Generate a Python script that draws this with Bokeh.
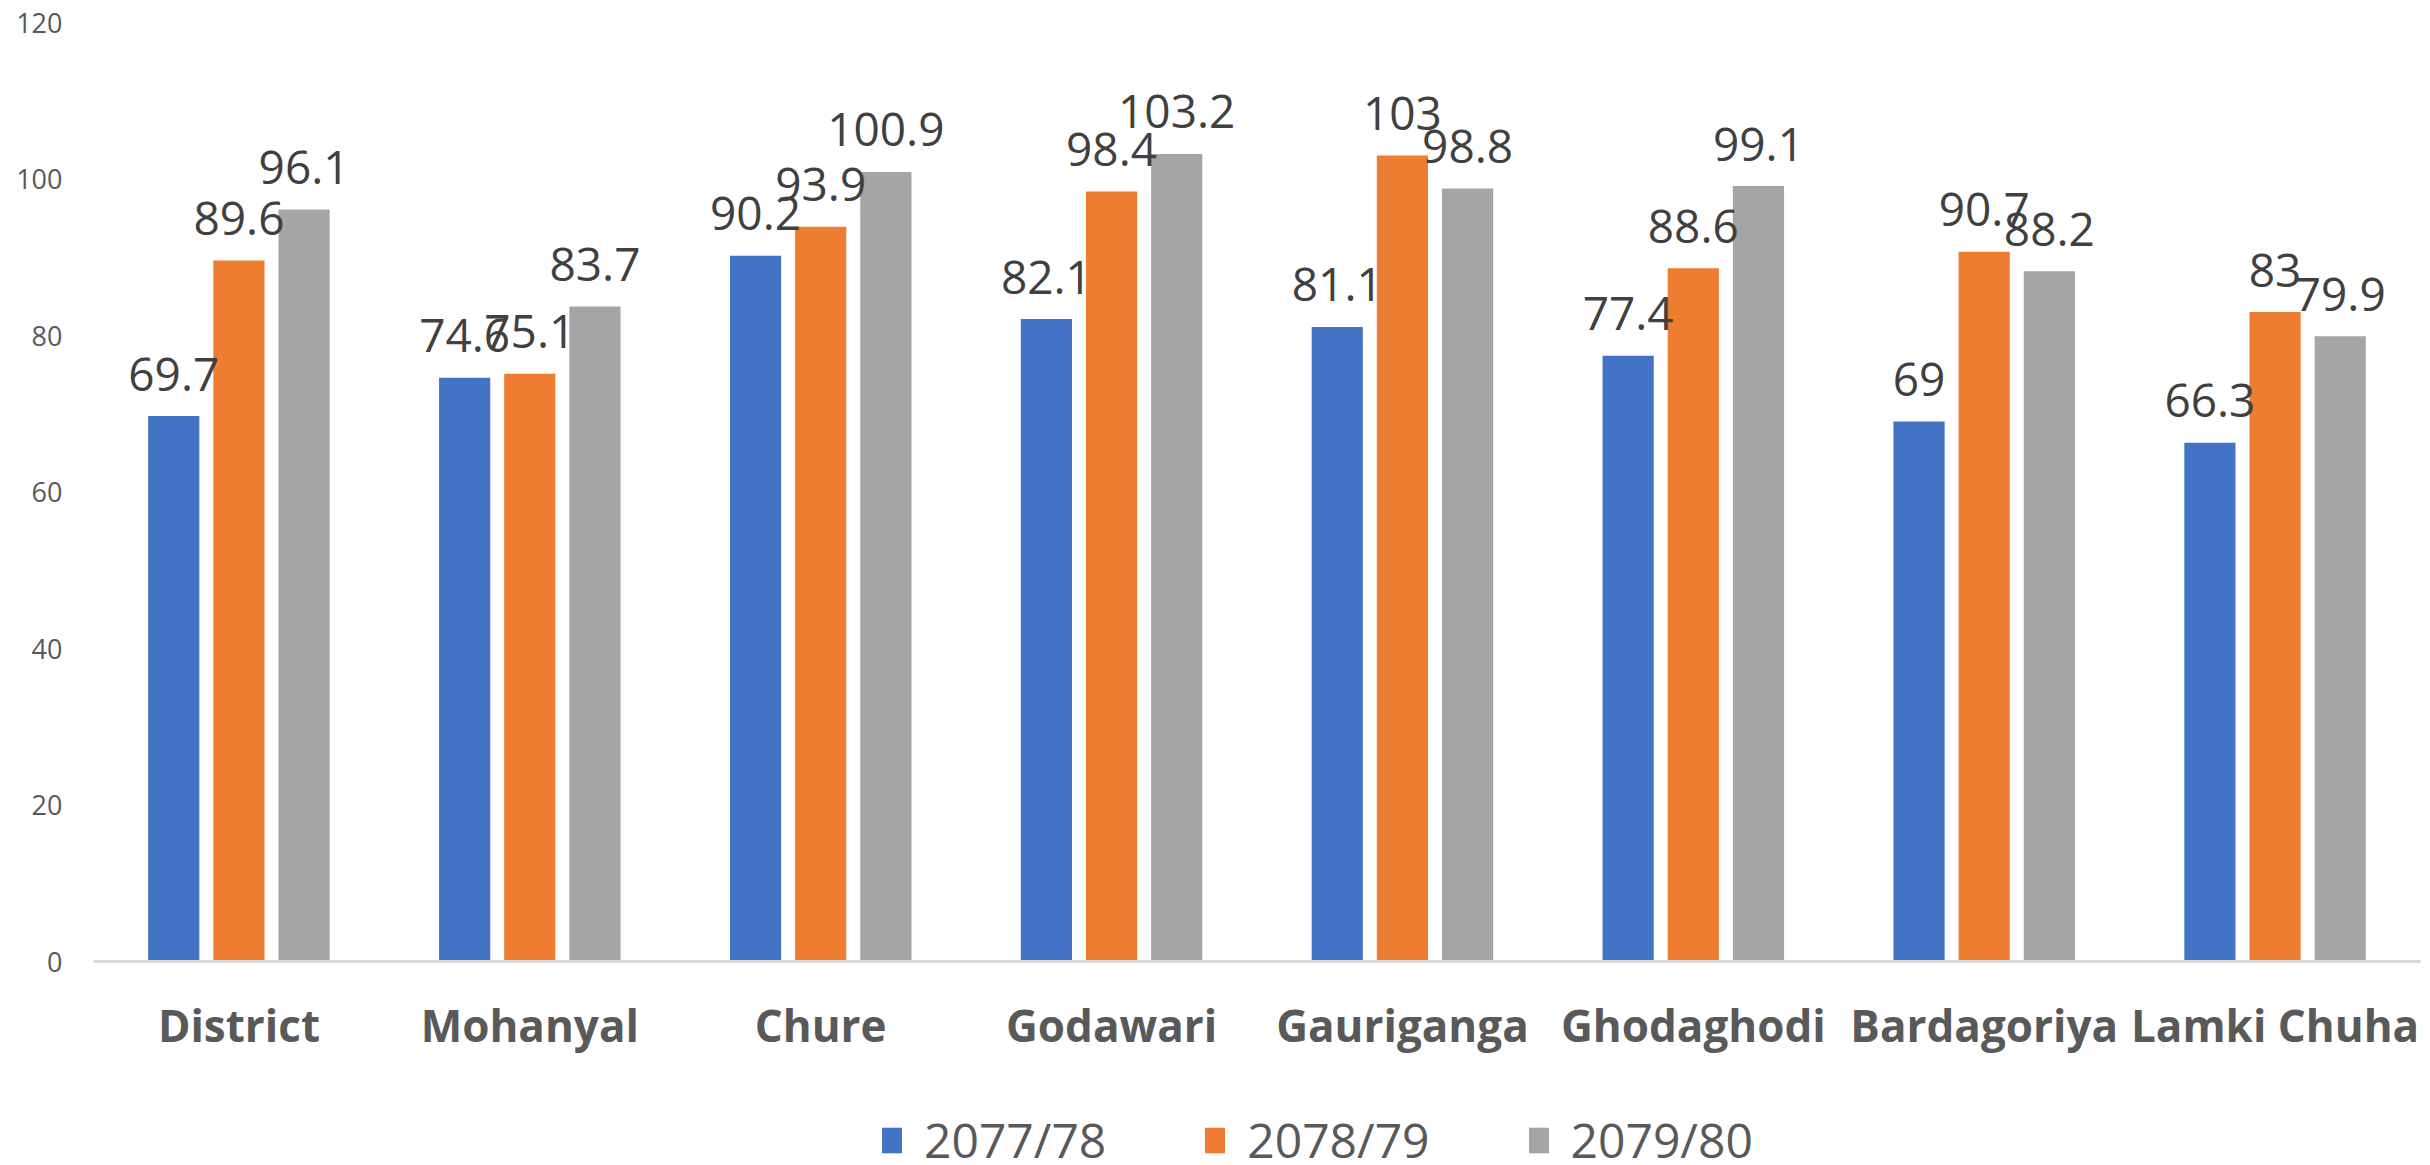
from bokeh.plotting import figure
from bokeh.models import ColumnDataSource, FactorRange, Legend, LegendItem
from bokeh.layouts import column
from bokeh.transform import dodge
from bokeh.core.properties import value
from bokeh.embed import file_html
from bokeh.resources import INLINE

categories = ["District", "Mohanyal", "Chure", "Godawari", "Gauriganga",
              "Ghodaghodi", "Bardagoriya", "Lamki Chuha"]
series_names = ["2077/78", "2078/79", "2079/80"]
v_2077 = [69.7, 74.6, 90.2, 82.1, 81.1, 77.4, 69.0, 66.3]
v_2078 = [89.6, 75.1, 93.9, 98.4, 103.0, 88.6, 90.7, 83.0]
v_2079 = [96.1, 83.7, 100.9, 103.2, 98.8, 99.1, 88.2, 79.9]
y_ticks = [0, 20, 40, 60, 80, 100, 120]

colors = ["#4472C4", "#ED7D31", "#A5A5A5"]
offsets = [-0.224, 0.0, 0.224]
bar_w = 0.176

W, H1, H2 = 2422, 1060, 105
p = figure(x_range=FactorRange(*categories), y_range=(0, 120),
           width=W, height=H1, output_backend="svg", toolbar_location=None,
           min_border_left=93, min_border_right=2, min_border_top=22,
           min_border_bottom=H1 - 961)
p.outline_line_color = None
p.xgrid.grid_line_color = None
p.ygrid.grid_line_color = None

fmt = lambda v: f"{v:g}"
src = ColumnDataSource(dict(
    cat=categories,
    a=v_2077, b=v_2078, c=v_2079,
    la=[fmt(v) for v in v_2077],
    lb=[fmt(v) for v in v_2078],
    lc=[fmt(v) for v in v_2079],
))

for key, col, off in zip(["a", "b", "c"], colors, offsets):
    p.vbar(x=dodge("cat", off, range=p.x_range), top=key, width=bar_w,
           source=src, fill_color=col, line_color=None)

for key, lab, off in zip(["a", "b", "c"], ["la", "lb", "lc"], offsets):
    p.text(x=dodge("cat", off, range=p.x_range), y=key, text=lab, source=src,
           text_align="center", text_baseline="alphabetic", y_offset=-42,
           text_font=value("Open Sans"), text_font_size="46px",
           text_color="#404040")

# x axis
xa = p.xaxis[0]
xa.axis_line_color = "#D9D9D9"
xa.axis_line_width = 3
xa.major_tick_line_color = None
xa.minor_tick_line_color = None
xa.major_tick_out = 0
xa.minor_tick_out = 0
xa.major_label_text_font = "Open Sans"
xa.major_label_text_font_style = "bold"
xa.major_label_text_font_size = "44px"
xa.major_label_text_color = "#595959"
xa.major_label_standoff = 33

# y axis
ya = p.yaxis[0]
ya.axis_line_color = None
ya.major_tick_line_color = None
ya.minor_tick_line_color = None
ya.major_tick_out = 0
ya.minor_tick_out = 0
ya.ticker = y_ticks
ya.major_label_text_font = "Open Sans"
ya.major_label_text_font_size = "27px"
ya.major_label_text_color = "#595959"
ya.major_label_standoff = 31

# legend strip
p2 = figure(width=W, height=H2, x_range=(0, 1), y_range=(0, 1),
            output_backend="svg", toolbar_location=None,
            x_axis_type=None, y_axis_type=None,
            min_border_left=0, min_border_right=0, min_border_top=0,
            min_border_bottom=0)
p2.outline_line_color = None
p2.xgrid.grid_line_color = None
p2.ygrid.grid_line_color = None
leg_r = [p2.rect(x=[-10], y=[-10], width=[0.1], height=[0.1],
                 fill_color=c, line_color=None)
         for c in colors]
legend = Legend(
    items=[LegendItem(label=n, renderers=[r]) for n, r in zip(series_names, leg_r)],
    orientation="horizontal", location=(786, -7),
    label_text_font="Open Sans", label_text_font_size="48px",
    label_text_color="#595959", glyph_width=25, glyph_height=32,
    label_standoff=20, spacing=96, padding=0, margin=0,
    border_line_color=None, background_fill_alpha=0,
)
p2.add_layout(legend, "center")

layout = column(p, p2, spacing=0)
open("out.html", "w").write(file_html(layout, INLINE))
